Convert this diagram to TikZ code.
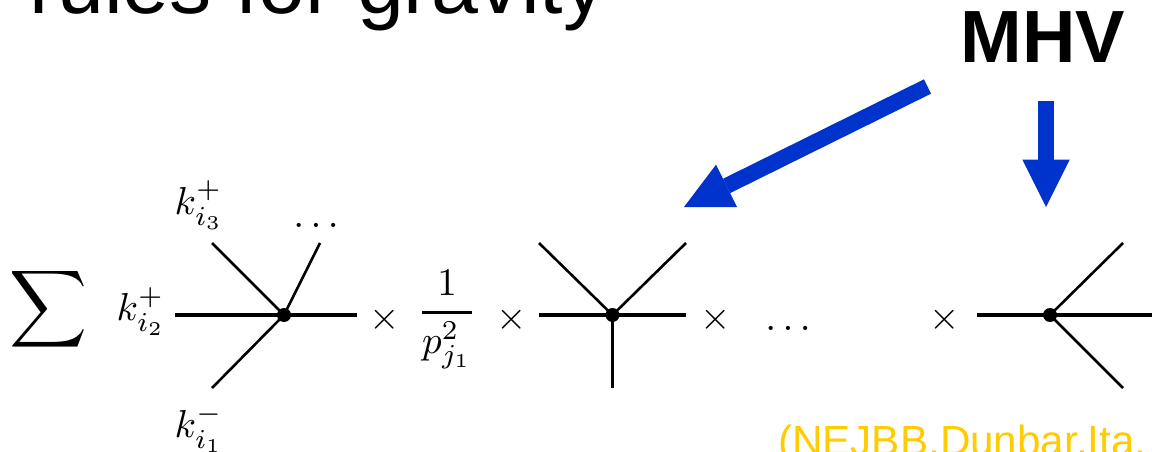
\documentclass[tikz,border=0pt]{standalone}
\usepackage{amsmath}
\usepackage{fontspec}
\setmainfont{Liberation Sans}
\usetikzlibrary{arrows.meta}
\definecolor{mhvblue}{HTML}{0033CC}
\definecolor{citeyellow}{HTML}{FFCC00}
\tikzset{
  x=1pt,y=-1pt,
  mathlabel/.style={inner sep=0pt,outer sep=0pt,scale=3.9,transform shape},
  leg/.style={line width=2.6pt,black},
  hleg/.style={line width=3.4pt,black},
  vertexdot/.style={circle,fill=black,inner sep=0pt,minimum size=14pt},
  bluearrow/.style={line width=16pt,mhvblue,-{Triangle[length=47.5pt,width=47.5pt,line width=0pt,sep=0pt]}},
}
\begin{document}
\begin{tikzpicture}
\useasboundingbox (0,0) rectangle (1152,452);
\clip (0,0) rectangle (1152,452);
% titles
\node[anchor=base west,inner sep=0pt,font=\fontsize{84.3}{90}\selectfont] (title) at (29,14) {rules for gravity};
\node[anchor=base west,inner sep=0pt,font=\fontsize{74}{80}\selectfont\bfseries] (mhv) at (960.5,63) {MHV};
\node[anchor=base west,inner sep=0pt,text=citeyellow,font=\fontsize{42.2}{46}\selectfont] (cite) at (778,455) {(NEJBB,Dunbar,Ita,};
% blue arrows
\coordinate (a1s) at (927.5,86.5);
\coordinate (a1e) at (684,207);
\coordinate (a2s) at (1046,101);
\coordinate (a2e) at (1046,207);
\draw[bluearrow] (a1s) -- (a1e);
\draw[bluearrow] (a2s) -- (a2e);
% vertices
\node[vertexdot] (v1) at (284,315) {};
\node[vertexdot] (v2) at (612.5,315) {};
\node[vertexdot] (v3) at (1050,315) {};
% leg ends
\coordinate (v1w) at (175,315);
\coordinate (v1e) at (357,315);
\coordinate (v1nw) at (212,243);
\coordinate (v1n) at (320,243);
\coordinate (v1sw) at (212,388);
\coordinate (v2w) at (539,315);
\coordinate (v2e) at (686,315);
\coordinate (v2nw) at (539,243);
\coordinate (v2ne) at (686,243);
\coordinate (v2s) at (612.5,388);
\coordinate (v3w) at (977,315);
\coordinate (v3e) at (1152,315);
\coordinate (v3ne) at (1123,243);
\coordinate (v3se) at (1123,388);
\draw[hleg] (v1w) -- (v1e);
\draw[leg] (v1nw) -- (v1.center);
\draw[leg] (v1n) -- (v1.center);
\draw[leg] (v1sw) -- (v1.center);
\draw[hleg] (v2w) -- (v2e);
\draw[leg] (v2nw) -- (v2.center);
\draw[leg] (v2ne) -- (v2.center);
\draw[leg] (v2s) -- (v2.center);
\draw[hleg] (v3w) -- (v3e);
\draw[leg] (v3ne) -- (v3.center);
\draw[leg] (v3se) -- (v3.center);
% maths
\node[inner sep=0pt,outer sep=0pt,scale=5.4,transform shape] (sum) at (48,309.5) {$\displaystyle\sum$};
\node[mathlabel] (k3) at (199,205) {$k_{i_3}^+$};
\node[mathlabel] (k2) at (141,311.5) {$k_{i_2}^+$};
\node[mathlabel] (k1) at (199,428.5) {$k_{i_1}^-$};
\node[mathlabel] (d1) at (316,225) {$\ldots$};
\node[mathlabel] (t1) at (385,320) {$\times$};
\node[mathlabel] (fr) at (447,320) {$\genfrac{}{}{0.7pt}{0}{1}{p_{j_1}^2}$};
\node[mathlabel] (t2) at (512,320) {$\times$};
\node[mathlabel] (t3) at (716,320) {$\times$};
\node[mathlabel] (d2) at (788,328) {$\ldots$};
\node[mathlabel] (t4) at (945,320) {$\times$};
\end{tikzpicture}
\end{document}
